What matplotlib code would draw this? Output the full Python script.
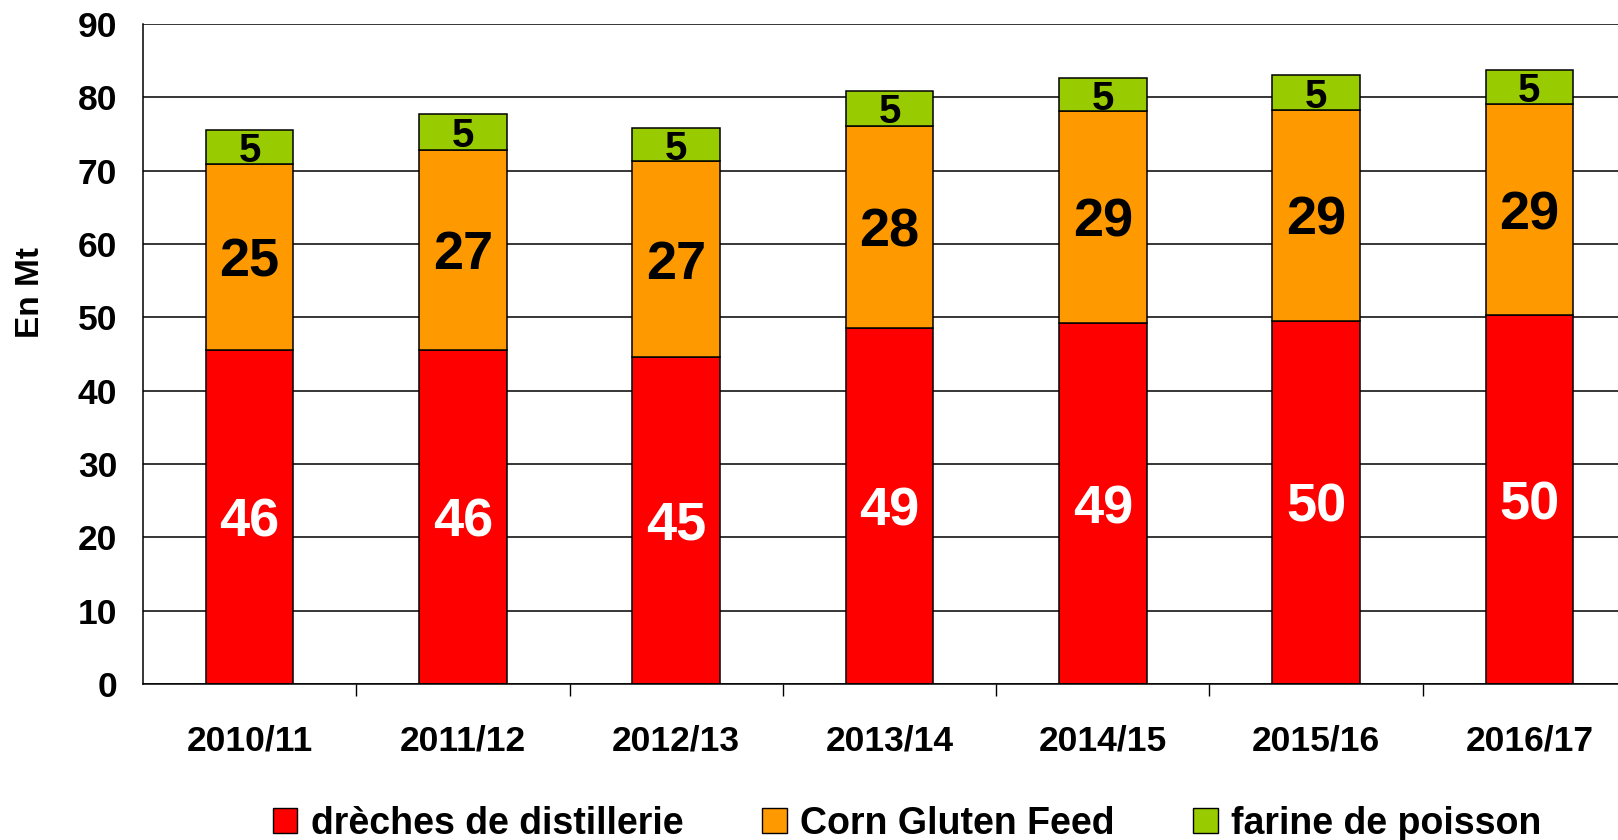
import matplotlib
matplotlib.use("Agg")
import matplotlib.pyplot as plt
from matplotlib.patches import Patch
import numpy as np

plt.rcParams['font.family'] = ['Liberation Sans', 'DejaVu Sans']
plt.rcParams['font.weight'] = 'bold'

categories = ["2010/11", "2011/12", "2012/13", "2013/14", "2014/15", "2015/16", "2016/17"]
dreches = [45.6, 45.6, 44.6, 48.6, 49.2, 49.5, 50.3]
corn_gluten = [25.3, 27.2, 26.7, 27.5, 28.9, 28.8, 28.8]
farine = [4.6, 4.9, 4.5, 4.8, 4.5, 4.7, 4.6]
series_names = ["drèches de distillerie", "Corn Gluten Feed", "farine de poisson"]
colors = ["#FF0000", "#FF9900", "#99CC00"]
label_colors = ["white", "black", "black"]
yticks = [0, 10, 20, 30, 40, 50, 60, 70, 80, 90]

W, H = 1618, 840
fig = plt.figure(figsize=(W / 100, H / 100), dpi=100)
ax = fig.add_axes([143 / W, (H - 684) / H, 1493 / W, 660 / H])

x = np.arange(len(categories))
bw = 0.41
bottom = np.zeros(len(categories))
series = [dreches, corn_gluten, farine]
label_sizes = [39, 39, 29]
for vals, col, lc, fs in zip(series, colors, label_colors, label_sizes):
    vals = np.array(vals)
    ax.bar(x, vals, bw, bottom=bottom, color=col, edgecolor="black", linewidth=1.1, zorder=3)
    for xi, b, v in zip(x, bottom, vals):
        ax.text(xi, b + v / 2, f"{int(np.floor(v + 0.5))}", ha="center", va="center_baseline",
                fontsize=fs, fontweight="bold", color=lc, zorder=4)
    bottom += vals

ax.set_xlim(-0.5, len(categories) - 0.5)
ax.set_ylim(0, 90)
ax.set_yticks(yticks)
ax.set_yticklabels([str(t) for t in yticks])
ax.yaxis.grid(True, color="black", linewidth=1.1, zorder=1)
ax.set_axisbelow(True)

ax.set_xticks(x)
ax.set_xticklabels(categories)
ax.set_xticks(np.arange(len(categories) - 1) + 0.5, minor=True)
ax.tick_params(axis="x", which="major", length=0, pad=29, labelsize=25.5)
ax.tick_params(axis="x", which="minor", length=8.6, width=1.0, direction="out", color="black")
ax.tick_params(axis="y", length=0, pad=18.5, labelsize=25.5)
for lab in ax.get_xticklabels() + ax.get_yticklabels():
    lab.set_fontweight("bold")

for s in ["top", "right"]:
    ax.spines[s].set_visible(False)
for s in ["left", "bottom"]:
    ax.spines[s].set_color("black")
    ax.spines[s].set_linewidth(1.1)
    ax.spines[s].set_zorder(5)

fig.text(31 / W, 1 - 292 / H, "En Mt", rotation=90, ha="center", va="center",
         fontsize=24, fontweight="bold")

handles = [Patch(facecolor=c, edgecolor="black", linewidth=1.0) for c in colors]
fig.legend(handles, series_names, loc="center", bbox_to_anchor=(907 / W, 1 - 824 / H),
           ncol=3, frameon=False, handlelength=0.66, handleheight=0.64,
           handletextpad=0.35, columnspacing=2.1, prop={"weight": "bold", "size": 27})

fig.savefig("out.png", dpi=100)
